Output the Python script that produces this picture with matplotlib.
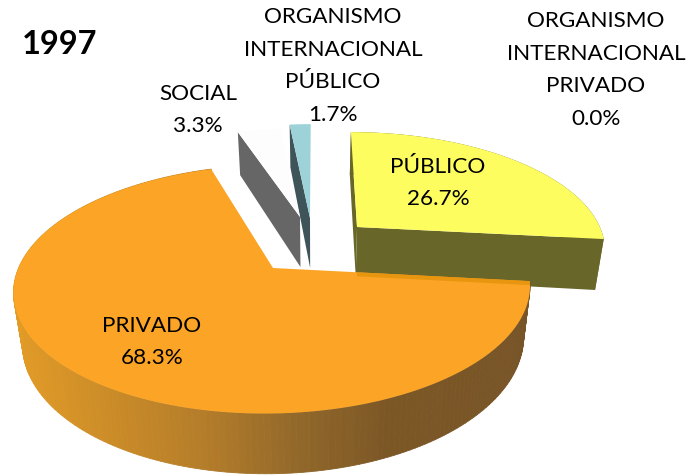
import matplotlib
matplotlib.use("Agg")
import matplotlib.pyplot as plt
import numpy as np

plt.rcParams['font.family'] = ['Lato', 'DejaVu Sans']

# data
year = "1997"
names = ["PÚBLICO", "PRIVADO", "SOCIAL", "ORGANISMO\nINTERNACIONAL\nPÚBLICO", "ORGANISMO\nINTERNACIONAL\nPRIVADO"]
values = [26.7, 68.3, 3.3, 1.7, 0.0]

top_colors = ["#fdfd60", "#fba425", "#fdfdfd", "#9dd3d8"]
side_colors = ["#686629", None, "#666666", "#3e5459"]

# where each exploded slice has its tip on the picture, and how far back it sits
apex = [(357, 227), (273, 268), (300, 217), (310, 218)]
scale_x = [0.945, 0.99, 0.94, 0.9]
scale_y = [0.91, 0.99, 0.85, 0.9]
label_pos = [(438, 183), (152, 342), (198, 110), (333, 66), (596, 70)]

# pie look
rx = 257
ry = 122
persp = 0.17
vanish_x = 315
depth = 50
shrink = 0.97


def project(i, deg):
    # angle clockwise from 12 o'clock onto the tilted disc
    rad = np.radians(deg)
    X = np.sin(rad)
    Y = -np.cos(rad)
    w = 1 - persp * Y
    ax_, ay_ = apex[i]
    px = ax_ + scale_x[i] * rx * X / w + (vanish_x - ax_) * (1 - 1 / w)
    py = ay_ + scale_y[i] * ry * Y / w
    return px, py, w


def drop(px, py, w=1.0):
    # same point on the underside of the slice, wall looks taller nearer the viewer
    return vanish_x + (np.asarray(px) - vanish_x) * shrink, np.asarray(py) + depth / w


fig = plt.figure(figsize=(6.87, 4.75), dpi=100)
ax = fig.add_axes([0, 0, 1, 1])
ax.set_xlim(0, 687)
ax.set_ylim(475, 0)
ax.axis("off")

edges = np.concatenate([[0], np.cumsum(values)]) * 3.6

# back slices first, the big one last so it lies over the yellow side
for i in [0, 2, 3, 1]:
    a = np.linspace(edges[i], edges[i + 1], 200)
    px, py, w = project(i, a)
    tx, ty = apex[i]
    bx, by = drop(px, py, w)

    if i == 1:
        # outer wall with the left to right shading
        stops_x = [12, 200, 300, 390, 535]
        stops_c = np.array([[226, 155, 38], [182, 126, 42], [146, 104, 42], [124, 87, 38], [120, 85, 40]]) / 255
        for j in range(len(a) - 1):
            col = [np.interp(px[j], stops_x, stops_c[:, c]) for c in range(3)]
            ax.fill([px[j], px[j + 1], bx[j + 1], bx[j]], [py[j], py[j + 1], by[j + 1], by[j]],
                    color=col, lw=0.6, zorder=i + 5)
    else:
        # cut face on the left of the slice
        btx, bty = drop(tx, ty)
        ax.fill([tx, px[0], bx[0], btx], [ty, py[0], by[0], bty], color=side_colors[i], lw=0, zorder=i + 1)
        if i == 0:
            # yellow slice also shows its cut at the front and the outer wall
            ax.fill([tx, px[-1], bx[-1], btx], [ty, py[-1], by[-1], bty], color=side_colors[i], lw=0, zorder=i + 1)
            ax.fill(np.r_[px, bx[::-1]], np.r_[py, by[::-1]], color=side_colors[i], lw=0, zorder=i + 1)

    ax.fill(np.r_[tx, px], np.r_[ty, py], color=top_colors[i], lw=0, zorder=i + 6)

# darker band where orange lies over the olive wall
ex, ey, _ = project(1, edges[1])
t0 = (apex[0][0] - apex[1][0]) / (ex - apex[1][0])
sx = apex[1][0] + t0 * (ex - apex[1][0])
sy = apex[1][1] + t0 * (ey - apex[1][1])
ax.fill([sx, ex, ex, sx], [sy, ey, ey + 4, sy + 4], color="#e8950f", lw=0, zorder=12)

for i in range(len(names)):
    ax.text(label_pos[i][0], label_pos[i][1], f"{names[i]}\n{values[i]:.1f}%", ha="center", va="center",
            fontsize=16.2, color="black", linespacing=1.78, zorder=20)

ax.text(22, 45, year, fontsize=23.5, fontweight="bold", ha="left", va="center", zorder=20)

fig.savefig("out.png", dpi=100)
